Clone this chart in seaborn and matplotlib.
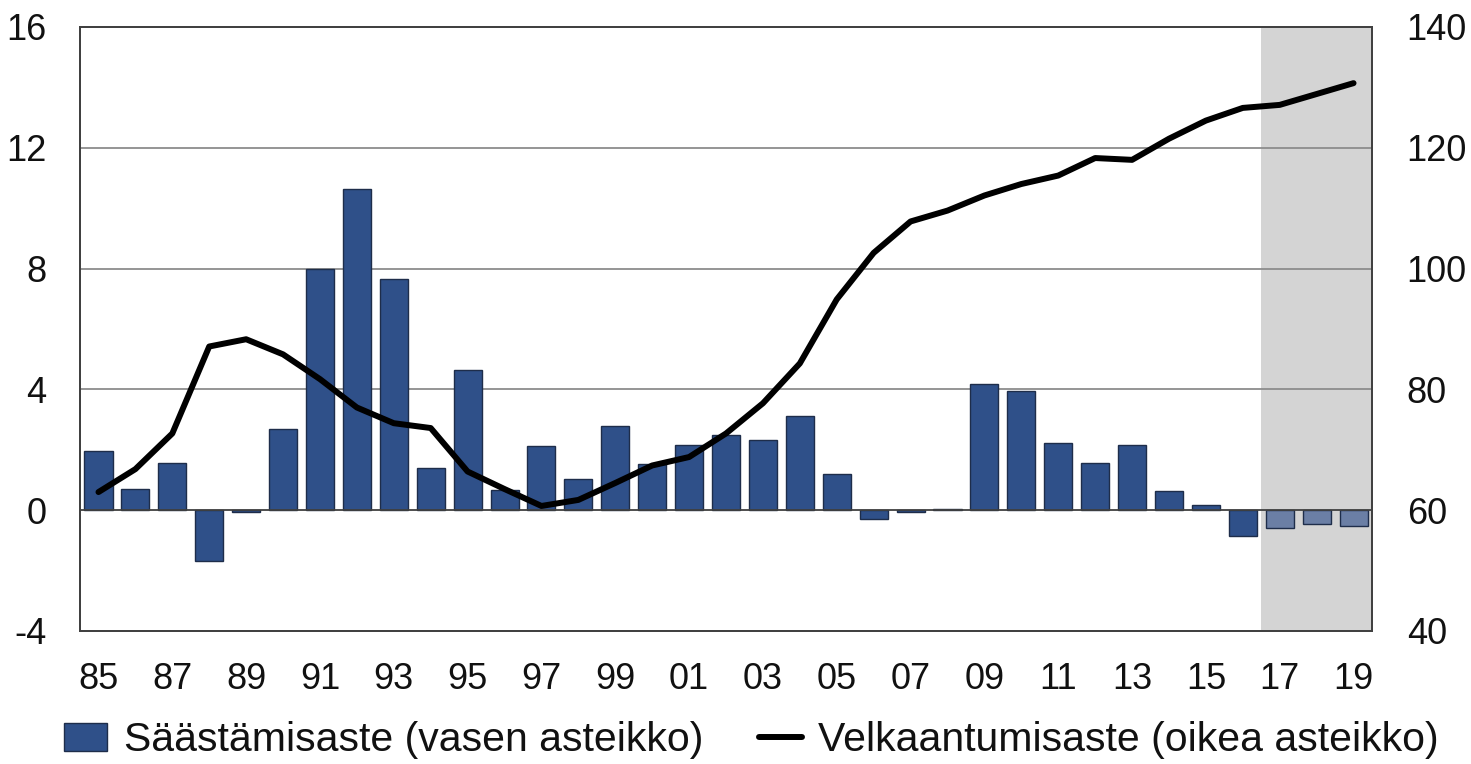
import numpy as np
import pandas as pd
import matplotlib
matplotlib.use("Agg")
import matplotlib.pyplot as plt
import seaborn as sns
from matplotlib.patches import Patch
from matplotlib.lines import Line2D

# DATA

years = ["85", "86", "87", "88", "89", "90", "91", "92", "93", "94",
         "95", "96", "97", "98", "99", "00", "01", "02", "03", "04",
         "05", "06", "07", "08", "09", "10", "11", "12", "13", "14",
         "15", "16", "17", "18", "19"]

saving_rate = [1.95, 0.69, 1.55, -1.68, -0.05, 2.70, 8.00, 10.63, 7.66, 1.39,
               4.65, 0.66, 2.11, 1.02, 2.80, 1.52, 2.15, 2.50, 2.31, 3.13,
               1.19, -0.30, -0.05, 0.05, 4.19, 3.96, 2.21, 1.55, 2.15, 0.63,
               0.17, -0.86, -0.60, -0.46, -0.53]

debt_ratio = [63.0, 66.8, 72.7, 87.1, 88.3, 85.8, 81.7, 77.0, 74.4, 73.6,
              66.4, 63.5, 60.7, 61.7, 64.5, 67.4, 68.8, 72.7, 77.7, 84.3,
              94.9, 102.6, 107.8, 109.6, 112.1, 114.0, 115.4, 118.3, 118.0, 121.5,
              124.5, 126.6, 127.1, 128.9, 130.7]

forecast_from = "17"
left_ticks = [-4, 0, 4, 8, 12, 16]
right_ticks = [40, 60, 80, 100, 120, 140]
label_bars = "Säästämisaste (vasen asteikko)"
label_line = "Velkaantumisaste (oikea asteikko)"

# PLOT

sns.set_style("white")
plt.rcParams["font.family"] = ["Liberation Sans", "DejaVu Sans"]
plt.rcParams["axes.unicode_minus"] = False

bar_color = "#2F5089"
fc_color = "#6B7FA5"
edge = "#1E2D4A"
txt = "#111111"

n_fc = len(years) - years.index(forecast_from)
df = pd.DataFrame({
    "year": years,
    "saving": saving_rate,
    "debt": debt_ratio,
    "period": ["actual"] * (len(years) - n_fc) + ["forecast"] * n_fc,
})
df["pos"] = np.arange(len(df))

fig = plt.figure(figsize=(14.71, 7.64), dpi=100)
ax = fig.add_axes([0.0544, 0.1741, 0.8783, 0.7906])

fc_start = df.loc[df.period == "forecast", "pos"].min() - 0.5
ax.axvspan(fc_start, len(df) - 0.5, color="#D4D4D4", zorder=0, lw=0)

for y in [4, 8, 12]:
    ax.axhline(y, color="#8C8C8C", lw=1.3, zorder=0.5)

sns.barplot(data=df, x="year", y="saving", hue="period",
            palette={"actual": bar_color, "forecast": fc_color},
            saturation=1, dodge=False, width=0.76, edgecolor=edge,
            linewidth=1.0, legend=False, ax=ax, zorder=2)
ax.axhline(0, color="#404040", lw=1.3, zorder=3)

ax.set_xlim(-0.5, len(df) - 0.5)
ax.set_ylim(left_ticks[0], left_ticks[-1])
ax.set_yticks(left_ticks)
ax.set_xticks(df.pos[::2])
ax.set_xticklabels(df.year[::2])
ax.set_xlabel("")
ax.set_ylabel("")
ax.tick_params(axis="both", length=0, labelsize=26, colors=txt)
ax.tick_params(axis="y", pad=24)
ax.tick_params(axis="x", pad=22)
for s in ax.spines.values():
    s.set_color("#404040")
    s.set_linewidth(1.3)

ax2 = ax.twinx()
sns.lineplot(data=df, x="pos", y="debt", color="black", lw=4.3, ax=ax2, zorder=5)
ax2.set_ylim(right_ticks[0], right_ticks[-1])
ax2.set_yticks(right_ticks)
ax2.set_xlim(-0.5, len(df) - 0.5)
ax2.set_ylabel("")
ax2.set_xlabel("")
ax2.tick_params(axis="y", length=0, labelsize=26, pad=25, colors=txt)
for s in ax2.spines.values():
    s.set_color("#404040")
    s.set_linewidth(1.3)

handles = [Patch(facecolor=bar_color, edgecolor=edge, lw=1.0),
           Line2D([], [], color="black", lw=4.3)]
leg = fig.legend(handles, [label_bars, label_line], loc="center",
                 bbox_to_anchor=(0.511, 0.031), ncol=2, frameon=False,
                 fontsize=29.5, handlelength=1.05, handleheight=0.66,
                 handletextpad=0.41, columnspacing=1.34)
for t in leg.get_texts():
    t.set_color(txt)

fig.savefig("out.png", dpi=100)
